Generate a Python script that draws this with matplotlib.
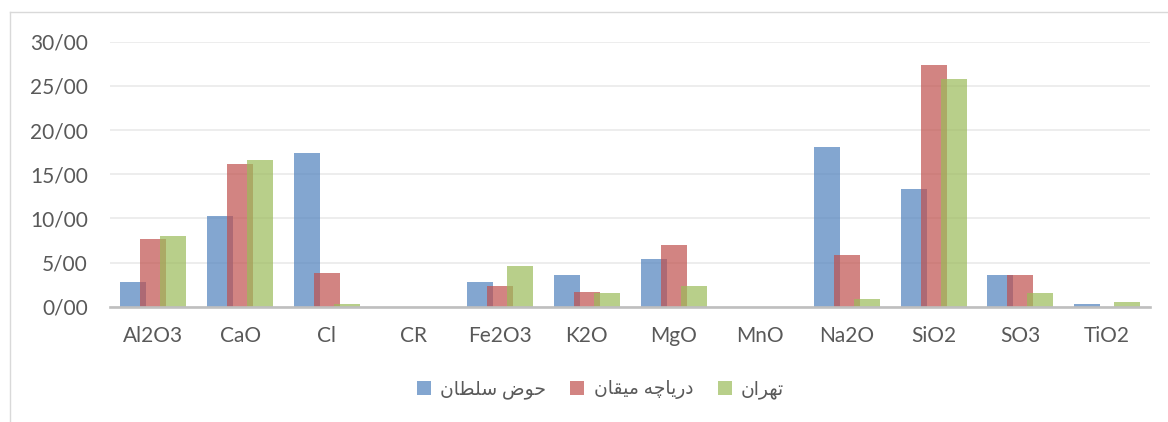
import matplotlib
import matplotlib.pyplot as plt
import numpy as np
from matplotlib.lines import Line2D
from matplotlib.ticker import FuncFormatter, MultipleLocator

matplotlib.use("Agg")

CATEGORIES = ["Al2O3", "CaO", "Cl", "CR", "Fe2O3", "K2O", "MgO",
              "MnO", "Na2O", "SiO2", "SO3", "TiO2"]

# حوض سلطان
HOZ_SOLTAN = [2.75, 10.3, 17.4, 0.0, 2.8, 3.6, 5.4, 0.0, 18.1, 13.3, 3.55, 0.27]
# دریاچه میقان
MEYGHAN = [7.7, 16.2, 3.78, 0.0, 2.4, 1.7, 6.95, 0.0, 5.9, 27.4, 3.55, 0.0]
# تهران
TEHRAN = [8.0, 16.65, 0.27, 0.0, 4.6, 1.5, 2.3, 0.0, 0.85, 25.75, 1.6, 0.57]

# persian labels written in visual order with presentation forms,
# since matplotlib does no arabic shaping
LABELS = [
    "\ufee5\ufe8e\ufec4\ufee0\ufeb3 \ufebd\ufeee\ufea3",
    "\ufee5\ufe8e\ufed8\ufbff\ufee3 \ufeea\ufb7c\ufe8e\ufbfe\ufead\ufea9",
    "\ufee5\ufe8d\ufeae\ufeec\ufe97",
]
COLORS = ["#4F81BD", "#C0504D", "#9BBB59"]

FONT = ["Lato", "DejaVu Sans"]
TEXT_COLOR = "#595959"

fig = plt.figure(figsize=(11.68, 4.22), dpi=100)
ax = fig.add_axes([0.0942, 0.2732, 0.8908, 0.628])

x = np.arange(len(CATEGORIES))
width = 0.30
step = 0.23
for i, (vals, col, lab) in enumerate(zip([HOZ_SOLTAN, MEYGHAN, TEHRAN], COLORS, LABELS)):
    ax.bar(x + (i - 1) * step, vals, width=width, color=col, alpha=0.7,
           label=lab, zorder=3 + i, linewidth=0)

ax.set_xlim(-0.5, len(CATEGORIES) - 0.5)
ax.set_ylim(0, 30)
ax.yaxis.set_major_locator(MultipleLocator(5))
ax.yaxis.set_major_formatter(FuncFormatter(lambda v, _: f"{v:.2f}".replace(".", "/")))
ax.set_xticks(x)
ax.set_xticklabels(CATEGORIES)

ax.grid(axis="y", color="#ececec", linewidth=1.3, zorder=0)
ax.set_axisbelow(True)
for side in ["top", "right", "left"]:
    ax.spines[side].set_visible(False)
ax.spines["bottom"].set_color("#bfbfbf")
ax.spines["bottom"].set_linewidth(1.9)
ax.spines["bottom"].set_zorder(10)
ax.tick_params(axis="both", length=0, labelsize=15, labelcolor=TEXT_COLOR)
ax.tick_params(axis="x", pad=14)
ax.tick_params(axis="y", pad=16)
for t in ax.get_xticklabels() + ax.get_yticklabels():
    t.set_family(FONT)

leg = fig.legend(loc="center", bbox_to_anchor=(0.514, 0.076), ncol=3,
                 frameon=False, handlelength=0.75, handleheight=0.75,
                 handletextpad=0.5, columnspacing=1.3,
                 prop={"family": FONT, "size": 13.5})
for t in leg.get_texts():
    t.set_color(TEXT_COLOR)

# chart area border (left and top only visible)
fig.add_artist(Line2D([10 / 1168, 10 / 1168], [0, 1 - 12 / 422],
                      transform=fig.transFigure, color="#d9d9d9", linewidth=1))
fig.add_artist(Line2D([10 / 1168, 1], [1 - 12 / 422, 1 - 12 / 422],
                      transform=fig.transFigure, color="#d9d9d9", linewidth=1))

fig.savefig("out.png", dpi=100)
